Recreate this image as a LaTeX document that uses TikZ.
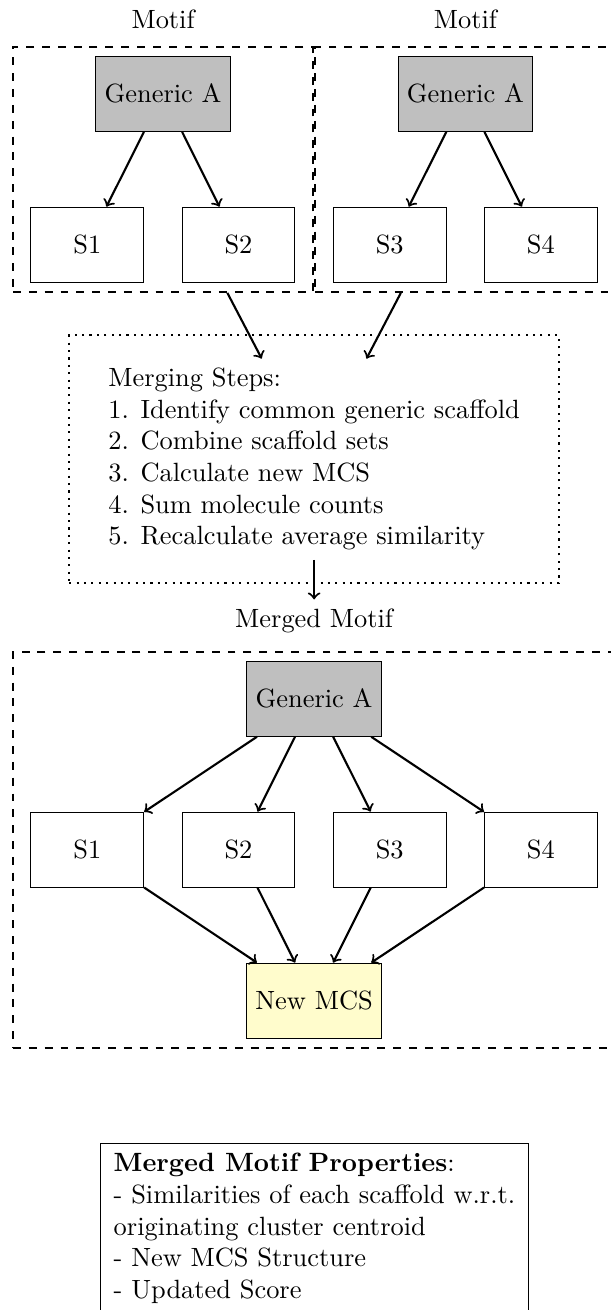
\documentclass[tikz,border=0pt]{standalone}
\usetikzlibrary{fit}
\begin{document}
\begin{tikzpicture}[x=0.3788pt, y=-0.3788pt,
  box/.style={draw, minimum height=1cm},
  generic/.style={box, fill=gray!50},
  scaf/.style={box, minimum width=1.5cm},
  mcsbox/.style={box, fill=yellow!20},
  group/.style={draw, thick, dashed, inner xsep=6.6pt, inner ysep=3.4pt},
  stepsframe/.style={draw, thick, dotted, inner xsep=11.3pt, inner ysep=8.8pt},
  props/.style={draw, align=left, inner xsep=5pt, inner ysep=3.8pt},
  link/.style={->, thick},
]
\useasboundingbox (0,0) rectangle (611,1310);

% --- two source motifs ---
\node[anchor=base] (lab1) at (163.1,28.3) {Motif};
\node[anchor=base] (lab2) at (465.4,28.3) {Motif};

\node[generic] (ga1) at (163.1,93.8) {Generic A};
\node[generic] (ga2) at (465.4,93.8) {Generic A};
\node[scaf] (s1) at (87.3,244.8) {S1};
\node[scaf] (s2) at (238.5,244.8) {S2};
\node[scaf] (s3) at (389.7,244.8) {S3};
\node[scaf] (s4) at (540.9,244.8) {S4};

\node[group, fit=(ga1)(s1)(s2)] (grp1) {};
\node[group, fit=(ga2)(s3)(s4)] (grp2) {};

\draw[link] (ga1) -- (s1);
\draw[link] (ga1) -- (s2);
\draw[link] (ga2) -- (s3);
\draw[link] (ga2) -- (s4);

% --- merging procedure ---
\node[align=left] (steps) at (314.1,459.2) {Merging Steps:\\
\makebox[12.2pt][l]{1.}Identify common generic scaffold\\
\makebox[12.2pt][l]{2.}Combine scaffold sets\\
\makebox[12.2pt][l]{3.}Calculate new MCS\\
\makebox[12.2pt][l]{4.}Sum molecule counts\\
\makebox[12.2pt][l]{5.}Recalculate average similarity};
\node[stepsframe, fit=(steps)] (stepsbox) {};

\draw[link] (grp1) -- (steps);
\draw[link] (grp2) -- (steps);

% --- merged motif ---
\node[anchor=base] (mlab) at (314.1,627.3) {Merged Motif};
\draw[link] (steps) -- (mlab);

\node[generic] (gam) at (314.1,698.7) {Generic A};
\node[scaf] (m1) at (87.3,849.7) {S1};
\node[scaf] (m2) at (238.5,849.7) {S2};
\node[scaf] (m3) at (389.7,849.7) {S3};
\node[scaf] (m4) at (540.9,849.7) {S4};
\node[mcsbox] (mcs) at (314.1,1000.7) {New MCS};

\node[group, fit=(gam)(m1)(m4)(mcs)] (grpm) {};

\foreach \s in {m1,m2,m3,m4} {
  \draw[link] (gam) -- (\s);
  \draw[link] (\s) -- (mcs);
}

% --- summary of the merged motif ---
\node[props, anchor=north] (info) at (314.5,1142.7) {\textbf{Merged Motif Properties}:\\
- Similarities of each scaffold w.r.t.\\
originating cluster centroid\\
- New MCS Structure\\
- Updated Score};
\end{tikzpicture}
\end{document}
